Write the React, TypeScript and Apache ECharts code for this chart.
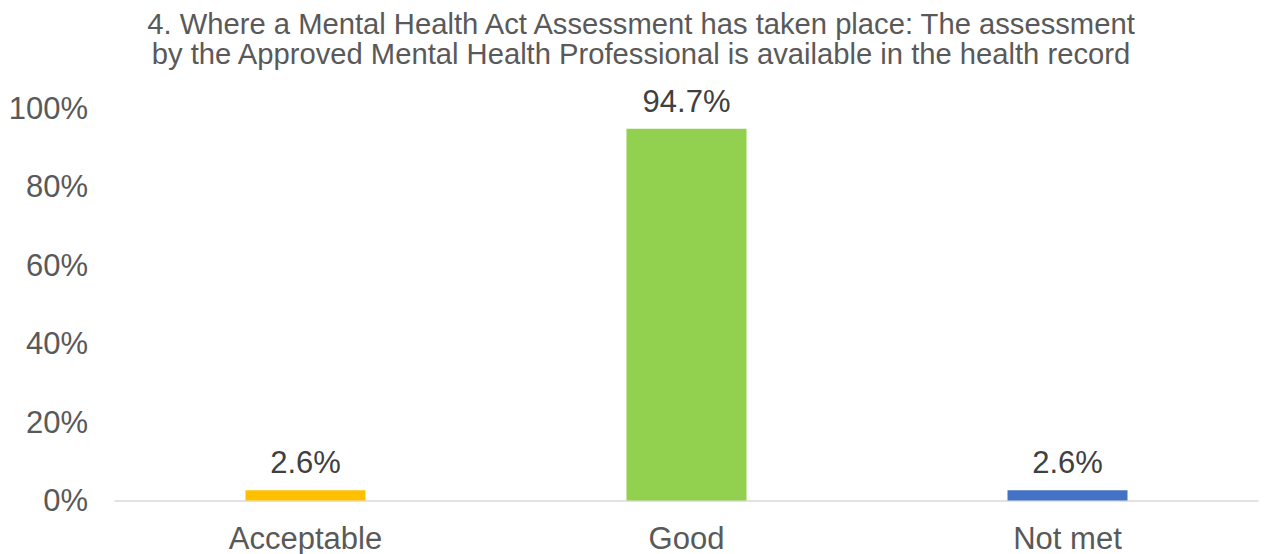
import React, { useEffect, useRef } from "react";
import * as echarts from "echarts";

const titleLines = [
  "4. Where a Mental Health Act Assessment has taken place: The assessment",
  "by the Approved Mental Health Professional is available in the health record",
];
const categories = ["Acceptable", "Good", "Not met"];
const values = [2.6, 94.7, 2.6];
const barColors = ["#FFC000", "#92D050", "#4472C4"];
const yTicks = [0, 20, 40, 60, 80, 100];

export default function App() {
  const ref = useRef<HTMLDivElement>(null);
  useEffect(() => {
    if (!ref.current) return;
    const chart = echarts.init(ref.current, null, { renderer: "svg" });
    const font = "Liberation Sans, Arial, sans-serif";
    chart.setOption({
      animation: false,
      backgroundColor: "#ffffff",
      title: {
        text: titleLines.join("\n"),
        left: 636,
        textAlign: "center",
        top: 4,
        textStyle: {
          fontFamily: font,
          fontSize: 29.2,
          fontWeight: "normal",
          color: "#595959",
          lineHeight: 30,
        },
      },
      grid: { left: 115, right: 6, top: 108, bottom: 52, containLabel: false },
      xAxis: {
        type: "category",
        data: categories,
        axisLine: { lineStyle: { color: "#d9d9d9", width: 1.5 } },
        axisTick: { show: false },
        axisLabel: {
          fontFamily: font,
          fontSize: 31,
          lineHeight: 28,
          color: "#595959",
          margin: 24,
        },
      },
      yAxis: {
        type: "value",
        min: yTicks[0],
        max: yTicks[yTicks.length - 1],
        interval: 20,
        splitLine: { show: false },
        axisLine: { show: false },
        axisTick: { show: false },
        axisLabel: {
          fontFamily: font,
          fontSize: 31,
          color: "#595959",
          margin: 27,
          formatter: (v: number) => `${v}%`,
        },
      },
      series: [
        {
          type: "bar",
          barWidth: 120,
          data: values.map((v, i) => ({ value: v, itemStyle: { color: barColors[i] } })),
          label: {
            show: true,
            position: "top",
            distance: 12,
            fontFamily: font,
            fontSize: 31,
            color: "#404040",
            formatter: (p: any) => `${p.value.toFixed(1)}%`,
          },
        },
      ],
    });
    return () => chart.dispose();
  }, []);
  return (
    <div
      ref={ref}
      style={{ position: "absolute", left: 0, top: 0, width: 1264, height: 554 }}
    />
  );
}
